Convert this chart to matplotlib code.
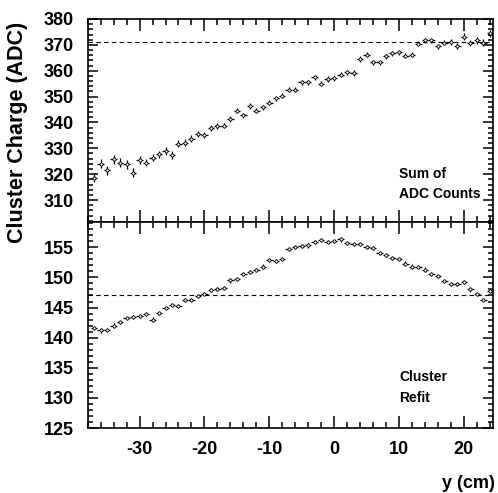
import matplotlib.pyplot as plt
from matplotlib.ticker import MultipleLocator

plt.rcParams['font.family'] = ['Liberation Sans', 'DejaVu Sans']
plt.rcParams['font.weight'] = 'bold'
plt.rcParams['axes.unicode_minus'] = False

# y position of the cluster (cm), 1 cm bins
y_cm = list(range(-37, 25))

# top panel: sum of ADC counts
adc_sum = [318.7, 324.1, 321.5, 325.8, 324.5, 323.8, 320.6, 325.5, 324.5, 326.4,
           327.7, 329.0, 327.4, 331.8, 332.2, 333.7, 335.4, 335.1, 338.0, 338.6,
           338.8, 341.4, 344.6, 342.7, 346.3, 344.6, 345.9, 347.6, 349.3, 350.4,
           352.7, 352.7, 355.5, 355.5, 357.4, 355.0, 356.8, 357.2, 358.5, 359.4,
           359.1, 364.5, 366.2, 363.2, 363.2, 365.5, 366.8, 367.1, 365.8, 366.2,
           370.4, 371.7, 371.7, 369.4, 370.9, 371.0, 369.6, 373.2, 370.6, 371.7,
           370.9, 374.5]
adc_sum_err = [1.9, 1.9, 1.8, 1.8, 1.7, 1.7, 1.6, 1.6, 1.5, 1.5,
               1.4, 1.4, 1.4, 1.3, 1.3, 1.3, 1.2, 1.2, 1.2, 1.2,
               1.1, 1.1, 1.1, 1.1, 1.1, 1.0, 1.0, 1.0, 1.0, 1.0,
               1.0, 1.0, 1.0, 1.0, 1.0, 1.0, 1.0, 1.0, 1.0, 1.0,
               1.0, 1.0, 1.0, 1.0, 1.0, 1.0, 1.0, 1.0, 1.0, 1.0,
               1.0, 1.0, 1.0, 1.0, 1.0, 1.1, 1.1, 1.2, 1.2, 1.2,
               1.3, 1.4]
adc_sum_ref = 371.2

# bottom panel: cluster refit
refit = [141.6, 141.2, 141.3, 142.0, 142.6, 143.2, 143.4, 143.6, 143.9, 143.0,
         144.1, 144.9, 145.4, 145.2, 146.3, 146.3, 146.9, 147.3, 147.9, 148.1,
         148.3, 149.5, 149.8, 150.6, 150.9, 151.2, 151.8, 152.9, 152.7, 153.1,
         154.7, 155.05, 155.2, 155.3, 155.9, 156.2, 155.9, 156.05, 156.3, 155.7,
         155.6, 155.5, 155.0, 154.9, 154.1, 153.7, 153.2, 153.0, 152.3, 151.8,
         151.7, 151.3, 150.6, 150.3, 149.4, 148.95, 148.95, 149.2, 148.0, 147.3,
         146.3, 147.8]
refit_err = [0.35] * 62
refit_ref = 147.0

W, H = 498, 493
fig = plt.figure(figsize=(W / 100, H / 100), dpi=100)
left, right = 87.7 / W, 493 / W
ax1 = fig.add_axes([left, 1 - 222 / H, right - left, (222 - 19) / H])
ax2 = fig.add_axes([left, 1 - 428 / H, right - left, (428 - 222) / H], sharex=ax1)

for ax, vals, errs, ref in [(ax1, adc_sum, adc_sum_err, adc_sum_ref),
                            (ax2, refit, refit_err, refit_ref)]:
    ax.errorbar(y_cm, vals, yerr=errs, xerr=0.5, fmt='o', ms=2.2,
                mfc='white', mec='black', mew=0.6, ecolor='black',
                elinewidth=0.9, capsize=0)
    ax.axhline(ref, color='black', lw=0.8, ls=(0, (4, 3)))
    ax.tick_params(which='both', direction='in', top=True, right=True,
                   labelsize=13, width=1.1)
    ax.tick_params(which='major', length=8.5)
    ax.tick_params(which='minor', length=4.3)
    ax.tick_params(axis='y', which='major', length=7)
    ax.tick_params(axis='y', which='minor', length=3.6)
    ax.tick_params(axis='y', pad=10)
    ax.tick_params(axis='x', pad=9)
    for s in ax.spines.values():
        s.set_linewidth(1.2)
    ax.xaxis.set_major_locator(MultipleLocator(10))
    ax.xaxis.set_minor_locator(MultipleLocator(2))

ax1.set_xlim(-38, 24.5)
ax1.set_ylim(301.5, 380)
ax1.yaxis.set_major_locator(MultipleLocator(10))
ax1.yaxis.set_minor_locator(MultipleLocator(2))
ax1.set_yticks(range(310, 381, 10))
ax1.tick_params(axis='x', labelbottom=False)

ax2.set_ylim(125, 159.2)
ax2.yaxis.set_major_locator(MultipleLocator(5))
ax2.yaxis.set_minor_locator(MultipleLocator(1))
ax2.set_yticks(range(125, 156, 5))

fig.text(18 / W, 1 - 132 / H, 'Cluster Charge (ADC)', rotation=90,
         ha='center', va='center', fontsize=15.5, fontweight='bold')
fig.text(495 / W, 1 - 483 / H, 'y (cm)', ha='right', va='center',
         fontsize=13, fontweight='bold')

fig.text(399 / W, 1 - 174 / H, 'Sum of', ha='left', va='center', fontsize=10)
fig.text(399 / W, 1 - 194 / H, 'ADC Counts', ha='left', va='center', fontsize=10)
fig.text(399 / W, 1 - 377 / H, 'Cluster', ha='left', va='center', fontsize=10)
fig.text(399 / W, 1 - 398 / H, 'Refit', ha='left', va='center', fontsize=10)

fig.savefig('out.png', dpi=100)
